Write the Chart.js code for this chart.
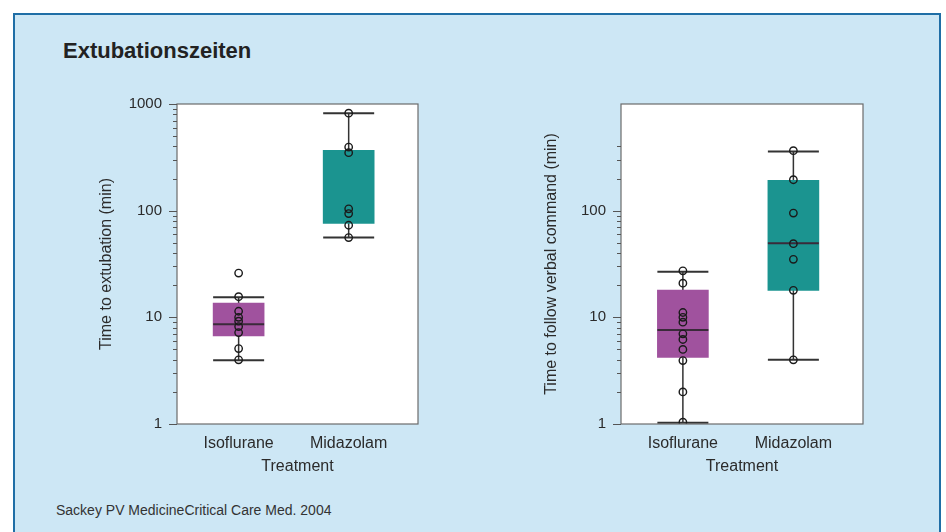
<!DOCTYPE html>
<html>
<head>
<meta charset="utf-8">
<script src="https://cdn.jsdelivr.net/npm/chart.js@4.4.0/dist/chart.umd.min.js"></script>
<style>
  body { margin: 0; width: 946px; height: 532px; background: #fff; position: relative; overflow: hidden; font-family: "Liberation Sans", Arial, sans-serif; }
  .panel { position: absolute; left: 13px; top: 13px; width: 924px; height: 530px; background: #cde7f5; border: 2px solid #1f6ea6; border-bottom: none; }
  .title { position: absolute; left: 63px; top: 38px; font-size: 22px; font-weight: bold; color: #222; }
  .source { position: absolute; left: 56px; top: 502px; font-size: 14px; color: #333; }
  canvas { position: absolute; }
</style>
</head>
<body>
<div class="panel"></div>
<div class="title">Extubationszeiten</div>
<canvas id="extubation" width="340" height="400" style="left:90px;top:80px"></canvas>
<canvas id="verbal" width="340" height="400" style="left:535px;top:80px"></canvas>
<div class="source">Sackey PV MedicineCritical Care Med. 2004</div>

<script>
const treatments = ["Isoflurane", "Midazolam"];
const boxColors = ["#a0529e", "#1b9490"];

// time to extubation (min)
const extQ1 = [6.7, 76];
const extMedian = [8.6, null];
const extQ3 = [13.6, 368];
const extMin = [3.95, 56];
const extMax = [15.4, 820];
const extIsoPoints = [26, 15.6, 11.4, 10, 9.2, 8.2, 7.2, 5.1, 4.0];
const extMidPoints = [820, 395, 350, 104, 94, 73, 56];

// time to follow verbal command (min)
const verQ1 = [4.2, 17.9];
const verMedian = [7.6, 49.6];
const verQ3 = [18, 192];
const verMin = [1.03, 4.0];
const verMax = [26.8, 358];
const verIsoPoints = [27.3, 20.9, 11.1, 10, 9, 7, 6.2, 5, 3.93, 2, 1.04];
const verMidPoints = [365, 195, 95, 49, 35, 17.9, 4.0];

const extTicks = [1, 2, 3, 4, 5, 6, 7, 8, 9, 10, 20, 30, 40, 50, 60, 70, 80, 90, 100, 200, 300, 400, 500, 600, 700, 800, 900, 1000];
const extLabels = [1, 10, 100, 1000];
const verTicks = [1, 2, 3, 4, 5, 6, 7, 8, 9, 10, 20, 30, 40, 50, 60, 70, 80, 90, 100, 200, 300, 400];
const verLabels = [1, 10, 100];

const textColor = "#2b2b2b";
const fontFamily = "'Liberation Sans', Arial, sans-serif";

// white plot background, frame and log ticks (long on labelled values)
const framePlugin = {
  id: "frame",
  beforeDraw(chart) {
    const a = chart.chartArea;
    const ctx = chart.ctx;
    ctx.save();
    ctx.fillStyle = "#fff";
    ctx.fillRect(a.left, a.top, a.right - a.left, a.bottom - a.top);
    ctx.restore();
  },
  afterDraw(chart) {
    const a = chart.chartArea;
    const ctx = chart.ctx;
    const y = chart.scales.y;
    const opts = chart.options.frame;
    ctx.save();
    ctx.strokeStyle = "#6b6b6b";
    ctx.lineWidth = 1.2;
    ctx.strokeRect(a.left, a.top, a.right - a.left, a.bottom - a.top);
    ctx.strokeStyle = "#555";
    ctx.lineWidth = 1;
    ctx.beginPath();
    opts.ticks.forEach(v => {
      const py = Math.round(y.getPixelForValue(v)) + 0.5;
      const len = opts.labels.includes(v) ? 8 : 4;
      ctx.moveTo(a.left - len, py);
      ctx.lineTo(a.left, py);
    });
    ctx.stroke();
    ctx.restore();
  }
};

function makeChart(id, yTitle, q1, median, q3, lo, hi, isoPts, midPts, tickVals, labelVals, axisWidth) {
  const whisker = [];
  const caps = [];
  const medians = [];
  treatments.forEach((t, i) => {
    whisker.push({ x: i + 1, y: lo[i] }, { x: i + 1, y: hi[i] }, { x: i + 1.5, y: null });
    caps.push({ x: i + 1, y: lo[i] }, { x: i + 1, y: hi[i] });
    if (median[i] !== null) medians.push({ x: i + 1, y: median[i] });
  });
  const points = isoPts.map(v => ({ x: 1, y: v })).concat(midPts.map(v => ({ x: 2, y: v })));

  return new Chart(document.getElementById(id), {
    type: "bar",
    data: {
      datasets: [
        {
          type: "bar",
          data: treatments.map((t, i) => ({ x: i + 1, y: [q1[i], q3[i]] })),
          backgroundColor: boxColors,
          borderWidth: 0,
          barThickness: 51,
          grouped: false,
          order: 2
        },
        {
          type: "line",
          data: whisker,
          borderColor: "#333",
          borderWidth: 1.5,
          pointRadius: 0,
          spanGaps: false,
          order: 3
        },
        {
          type: "scatter",
          data: caps,
          pointStyle: "line",
          pointRadius: 25.5,
          borderColor: "#333",
          borderWidth: 2,
          order: 1
        },
        {
          type: "scatter",
          data: medians,
          pointStyle: "line",
          pointRadius: 25.5,
          borderColor: "#3a2a3a",
          borderWidth: 2,
          order: 1
        },
        {
          type: "scatter",
          data: points,
          pointStyle: "circle",
          pointRadius: 3.7,
          borderColor: "#1a1a1a",
          backgroundColor: "rgba(0,0,0,0)",
          borderWidth: 1.4,
          order: 0
        }
      ]
    },
    options: {
      responsive: false,
      animation: false,
      frame: { ticks: tickVals, labels: labelVals },
      layout: { autoPadding: false, padding: { top: 23, right: 12, bottom: 0, left: 0 } },
      plugins: { legend: { display: false }, tooltip: { enabled: false } },
      scales: {
        x: {
          type: "linear",
          min: 0.44,
          max: 2.63,
          offset: false,
          grid: { display: false, drawTicks: false, offset: false },
          border: { display: false },
          afterBuildTicks: s => { s.ticks = treatments.map((t, i) => ({ value: i + 1 })); },
          afterFit: s => { s.height = 56; },
          ticks: {
            autoSkip: false,
            maxRotation: 0,
            padding: 10,
            color: textColor,
            font: { family: fontFamily, size: 16 },
            callback: v => treatments[v - 1]
          },
          title: {
            display: true,
            text: "Treatment",
            color: textColor,
            font: { family: fontFamily, size: 16 },
            padding: { top: 0, bottom: 4 }
          }
        },
        y: {
          type: "logarithmic",
          min: 1,
          max: 1000,
          grid: { display: false, drawTicks: false },
          border: { display: false },
          afterBuildTicks: s => { s.ticks = tickVals.map(v => ({ value: v })); },
          afterFit: s => { s.width = axisWidth; },
          ticks: {
            autoSkip: false,
            padding: 15,
            color: textColor,
            font: { family: fontFamily, size: 15 },
            callback: v => labelVals.includes(v) ? String(v) : ""
          },
          title: {
            display: true,
            text: yTitle,
            color: textColor,
            font: { family: fontFamily, size: 16 },
            padding: { top: 7, bottom: 0 }
          }
        }
      }
    },
    plugins: [framePlugin]
  });
}

makeChart("extubation", "Time to extubation (min)", extQ1, extMedian, extQ3, extMin, extMax,
  extIsoPoints, extMidPoints, extTicks, extLabels, 87);
makeChart("verbal", "Time to follow verbal command (min)", verQ1, verMedian, verQ3, verMin, verMax,
  verIsoPoints, verMidPoints, verTicks, verLabels, 86);
</script>
</body>
</html>
